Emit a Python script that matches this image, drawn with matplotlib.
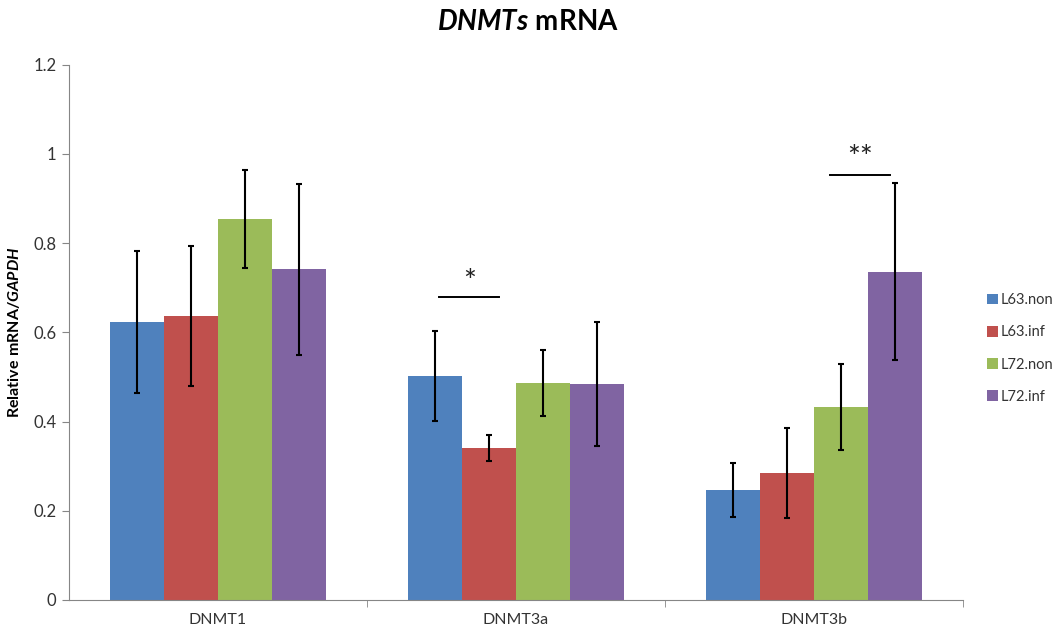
import numpy as np
import matplotlib
matplotlib.use("Agg")
import matplotlib.pyplot as plt

# data
genes = ["DNMT1", "DNMT3a", "DNMT3b"]
groups = ["L63.non", "L63.inf", "L72.non", "L72.inf"]
l63_non = [0.623, 0.502, 0.246]
l63_inf = [0.637, 0.341, 0.284]
l72_non = [0.854, 0.486, 0.432]
l72_inf = [0.741, 0.484, 0.736]
l63_non_err = [0.160, 0.100, 0.060]
l63_inf_err = [0.157, 0.029, 0.101]
l72_non_err = [0.109, 0.074, 0.096]
l72_inf_err = [0.192, 0.140, 0.198]
colors = ["#4F81BD", "#C0504D", "#9BBB59", "#8064A2"]

plt.rcParams['font.family'] = ['Lato', 'DejaVu Sans']
plt.rcParams['mathtext.fontset'] = 'custom'
plt.rcParams['mathtext.bf'] = 'Lato:bold'
plt.rcParams['mathtext.it'] = 'Lato:bold:italic'
plt.rcParams['mathtext.rm'] = 'Lato'

fig = plt.figure(figsize=(10.58, 6.35), dpi=100)
ax = fig.add_axes([69/1058, 35/635, (963-69)/1058, (600-64.5)/635])

vals = [l63_non, l63_inf, l72_non, l72_inf]
errs = [l63_non_err, l63_inf_err, l72_non_err, l72_inf_err]
x = np.arange(len(genes))
w = 1/5.5
for i in range(4):
    ax.bar(x + (i-1.5)*w, vals[i], w, color=colors[i], label=groups[i],
           yerr=errs[i], error_kw=dict(ecolor='black', elinewidth=1.5,
                                        capsize=2.3, capthick=1.5))

# significance marks
ax.plot([0.743, 0.944], [0.678, 0.678], color='black', lw=1.4)
ax.text(0.843, 0.712, "*", ha='center', va='center', fontsize=22, color='#222222')
ax.plot([2.054, 2.255], [0.953, 0.953], color='black', lw=1.4)
ax.text(2.155, 0.99, "**", ha='center', va='center', fontsize=22, color='#222222')

ax.set_xlim(-0.5, 2.5)
ax.set_ylim(0, 1.2)
ax.set_yticks(np.arange(0, 1.21, 0.2))
ax.set_yticklabels(["0", "0.2", "0.4", "0.6", "0.8", "1", "1.2"])
ax.set_xticks(x)
ax.set_xticklabels(genes)
ax.set_xticks([0.5, 1.5, 2.5], minor=True)
ax.tick_params(axis='x', which='major', length=0, pad=9, labelsize=11.5, labelcolor='#333333')
ax.tick_params(axis='x', which='minor', length=5, color='#868686', direction='out')
ax.tick_params(axis='y', length=5, color='#868686', labelsize=12, labelcolor='#333333', pad=4)
for s in ['top', 'right']:
    ax.spines[s].set_visible(False)
for s in ['left', 'bottom']:
    ax.spines[s].set_color('#868686')

ax.set_ylabel(r"$\mathbf{Relative\ mRNA/}\mathit{GAPDH}$", fontsize=11.5, labelpad=8)

fig.text(528/1058, 1 - 22/635, r"$\mathit{DNMTs}\ \mathbf{mRNA}$", ha='center', va='center',
         fontsize=20)

ax.legend(loc='upper left', bbox_to_anchor=(977/1058, 1 - 283/635),
          bbox_transform=fig.transFigure, frameon=False, fontsize=10.5,
          handlelength=0.75, handleheight=0.75, handletextpad=0.15, labelspacing=1.25,
          labelcolor='#333333', borderpad=0.2)

fig.savefig("out.png", dpi=100)
